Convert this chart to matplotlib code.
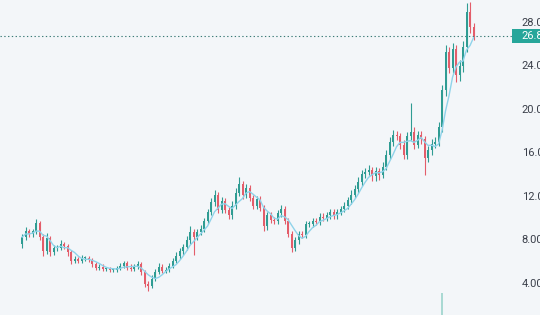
import matplotlib
matplotlib.use("Agg")
import matplotlib.pyplot as plt
from matplotlib.patches import Rectangle
import numpy as np
import pandas as pd

# weekly candles
opens = [7.7, 8.3, 8.9, 8.6, 8.9, 9.6, 8.3, 7.0, 8.2, 6.9,
         7.3, 7.3, 7.7, 7.5, 6.9, 6.1, 6.3, 6.1, 6.4, 6.4,
         6.2, 5.8, 5.5, 5.6, 5.4, 5.4, 5.3, 5.3, 5.5, 5.7,
         5.9, 5.5, 5.4, 5.6, 5.8, 5.1, 4.0, 3.8, 4.5, 5.1,
         5.6, 5.2, 5.3, 5.7, 6.1, 6.6, 7.0, 7.4, 8.0, 8.8,
         8.3, 8.8, 9.1, 9.8, 10.6, 11.5, 12.2, 10.8, 11.6, 10.8,
         10.3, 11.2, 12.4, 13.2, 12.2, 12.8, 11.9, 11.2, 11.8, 11.0,
         9.3, 10.3, 9.9, 9.8, 10.5, 10.9, 9.8, 8.6, 7.3, 8.0,
         8.6, 8.5, 9.5, 9.5, 9.8, 9.7, 10.2, 10.1, 10.3, 10.6,
         10.3, 10.6, 10.9, 11.2, 11.7, 12.2, 12.7, 13.4, 14.1, 14.3,
         14.5, 13.9, 14.4, 14.0, 14.8, 15.9, 17.1, 17.7, 17.6, 16.8,
         15.9, 17.6, 18.0, 16.8, 17.7, 17.3, 15.6, 16.3, 16.9, 17.1,
         18.4, 21.8, 25.3, 23.9, 25.6, 23.2, 24.0, 25.8, 29.0, 27.6]
closes = [8.3, 8.9, 8.6, 8.9, 9.6, 8.3, 7.0, 8.2, 6.9, 7.3,
          7.3, 7.7, 7.5, 6.9, 6.1, 6.3, 6.1, 6.4, 6.4, 6.2,
          5.8, 5.5, 5.6, 5.4, 5.4, 5.3, 5.3, 5.5, 5.7, 5.9,
          5.5, 5.4, 5.6, 5.8, 5.1, 4.0, 3.8, 4.5, 5.1, 5.6,
          5.2, 5.3, 5.7, 6.1, 6.6, 7.0, 7.4, 8.0, 8.8, 8.3,
          8.8, 9.1, 9.8, 10.6, 11.5, 12.2, 10.8, 11.6, 10.8, 10.3,
          11.2, 12.4, 13.2, 12.2, 12.8, 11.9, 11.2, 11.8, 11.0, 9.3,
          10.3, 9.9, 9.8, 10.5, 10.9, 9.8, 8.6, 7.3, 8.0, 8.6,
          8.5, 9.5, 9.5, 9.8, 9.7, 10.2, 10.1, 10.3, 10.6, 10.3,
          10.6, 10.9, 11.2, 11.7, 12.2, 12.7, 13.4, 14.1, 14.3, 14.5,
          13.9, 14.4, 14.0, 14.8, 15.9, 17.1, 17.7, 17.6, 16.8, 15.9,
          17.6, 18.0, 16.8, 17.7, 17.3, 15.6, 16.3, 16.9, 17.1, 18.4,
          21.8, 25.3, 23.9, 25.6, 23.2, 24.0, 25.8, 29.0, 27.6, 26.8]
highs = [8.6, 9.2, 9.1, 9.1, 10.0, 9.8, 8.6, 8.7, 8.4, 7.6,
         7.6, 8.0, 7.9, 7.7, 7.1, 6.6, 6.5, 6.7, 6.6, 6.6,
         6.4, 6.0, 5.8, 5.8, 5.6, 5.6, 5.5, 5.7, 5.9, 6.1,
         6.1, 5.8, 5.8, 6.1, 6.0, 5.3, 4.3, 4.8, 5.4, 5.9,
         5.8, 5.6, 5.9, 6.4, 6.9, 7.3, 7.7, 8.4, 9.3, 9.1,
         9.1, 9.4, 10.1, 10.9, 11.9, 12.6, 12.5, 12.0, 11.9, 11.1,
         11.6, 12.8, 13.8, 13.5, 13.2, 13.1, 12.2, 12.1, 12.1, 11.3,
         10.6, 10.6, 10.2, 10.8, 11.3, 11.2, 10.1, 8.9, 8.3, 8.9,
         8.9, 9.8, 9.8, 10.1, 10.1, 10.5, 10.5, 10.6, 10.9, 10.9,
         10.9, 11.2, 11.5, 12.0, 12.6, 13.1, 13.8, 14.5, 14.7, 14.9,
         14.8, 14.8, 14.7, 15.2, 16.3, 17.5, 18.2, 18.1, 17.9, 17.2,
         18.0, 20.6, 18.4, 18.1, 18.1, 17.6, 16.7, 17.3, 17.5, 18.9,
         22.3, 26.0, 25.8, 26.2, 26.0, 24.6, 26.3, 29.8, 29.9, 28.0]
lows = [7.3, 8.0, 8.3, 8.3, 8.6, 8.0, 6.6, 6.8, 6.6, 6.7,
        7.0, 7.1, 7.2, 6.6, 5.8, 5.9, 5.9, 5.9, 6.1, 6.0,
        5.6, 5.3, 5.3, 5.2, 5.2, 5.1, 5.1, 5.1, 5.3, 5.5,
        5.3, 5.2, 5.2, 5.4, 4.8, 3.7, 3.4, 3.6, 4.3, 4.9,
        5.0, 5.0, 5.1, 5.5, 5.9, 6.3, 6.7, 7.1, 7.7, 6.7,
        8.0, 8.5, 8.8, 9.5, 10.3, 11.2, 10.5, 10.5, 10.5, 10.0,
        10.0, 10.9, 12.1, 11.8, 11.9, 11.6, 10.9, 10.9, 10.7, 8.9,
        9.0, 9.6, 9.5, 9.5, 10.2, 9.5, 8.3, 6.9, 7.0, 7.7,
        8.2, 8.2, 9.2, 9.2, 9.4, 9.4, 9.8, 9.8, 10.0, 10.0,
        10.0, 10.3, 10.6, 10.9, 11.4, 11.9, 12.4, 13.0, 13.7, 14.0,
        13.5, 13.5, 13.6, 13.7, 14.5, 15.5, 16.7, 17.2, 16.4, 15.5,
        15.5, 17.2, 16.4, 16.5, 16.9, 14.0, 15.2, 15.9, 16.5, 16.7,
        18.0, 21.3, 23.4, 23.4, 22.6, 22.7, 23.5, 25.3, 27.1, 26.4]
volumes = [3, 4, 3, 2, 5, 4, 6, 3, 4, 3,
           2, 2, 3, 2, 3, 2, 2, 2, 2, 2,
           2, 2, 1, 2, 1, 1, 1, 2, 2, 1,
           1, 2, 1, 2, 3, 5, 6, 4, 3, 2,
           2, 2, 2, 3, 3, 3, 4, 4, 5, 4,
           3, 3, 4, 5, 6, 6, 5, 4, 4, 3,
           3, 4, 6, 5, 4, 4, 3, 3, 3, 5,
           4, 3, 3, 3, 3, 3, 4, 6, 4, 3,
           3, 3, 3, 2, 2, 3, 2, 2, 3, 2,
           2, 3, 3, 3, 4, 4, 5, 5, 5, 4,
           4, 4, 4, 5, 6, 7, 6, 5, 6, 6,
           6, 9, 7, 5, 5, 8, 6, 5, 5, 9,
           100, 14, 10, 9, 10, 8, 9, 12, 10, 8]
price_ticks = [4, 8, 12, 16, 20, 24, 28]

df = pd.DataFrame({"open": opens, "high": highs, "low": lows,
                   "close": closes, "volume": volumes})
df["ma"] = df["close"].rolling(5, min_periods=1).mean()

up_col = "#2f9c93"
down_col = "#e35d6a"
bg = "#f3f6f9"

fig = plt.figure(figsize=(5.4, 3.15), dpi=100, facecolor=bg)
ax = fig.add_axes([0, 0, 505 / 540, 1])

# volume on its own scale, base sits below the visible area
vax = ax.twinx()
vax.bar(df.index, df["volume"], width=0.4, color="#a9d9d3", zorder=1)
vax.set_ylim(16, 16 + 84 * 315 / 22)
vax.axis("off")
ax.set_zorder(vax.get_zorder() + 1)
ax.patch.set_visible(False)

x = df.index.values
colors = np.where(df["close"] >= df["open"], up_col, down_col)
ax.vlines(x, df["low"], df["high"], colors=colors, linewidth=0.8, zorder=2)
body_lo = np.minimum(df["open"], df["close"])
body_h = np.abs(df["close"] - df["open"]).clip(lower=0.08)
ax.bar(x, body_h, bottom=body_lo, width=0.5, color=colors, linewidth=0, zorder=3)
ax.plot(x, df["ma"], color="#8fd3ea", linewidth=1.0, zorder=4)

last = closes[-1]
ax.axhline(last, xmax=512 / 505, clip_on=False, color="#3b7a76",
           linestyle=(0, (1.2, 2.2)), linewidth=0.8, zorder=1)

ax.set_xlim(-6.3, 138)
ax.set_ylim(1.15, 30.11)
ax.set_xticks([])
ax.set_yticks([])
for s in ax.spines.values():
    s.set_visible(False)

# price scale on the right
trans = ax.get_yaxis_transform()
for t in price_ticks:
    ax.text(1.033, t, f"{t:.2f}", transform=trans, ha="left", va="center",
            fontsize=8, family="Roboto", color="#3a3f4a", clip_on=False)

# last price tag
yfig = fig.transFigure.inverted().transform(ax.transData.transform((0, last)))[1]
tag = Rectangle((512 / 540, yfig - 7 / 315), 28 / 540, 14 / 315,
                transform=fig.transFigure, facecolor="#26a69a",
                edgecolor="none", zorder=5, clip_on=False)
ax.add_artist(tag)
ax.text(1.033, last, f"{last:.2f}", transform=trans, ha="left", va="center",
        fontsize=8, family="Roboto", color="white", clip_on=False, zorder=6)

fig.savefig("out.png", dpi=100, facecolor=bg)
